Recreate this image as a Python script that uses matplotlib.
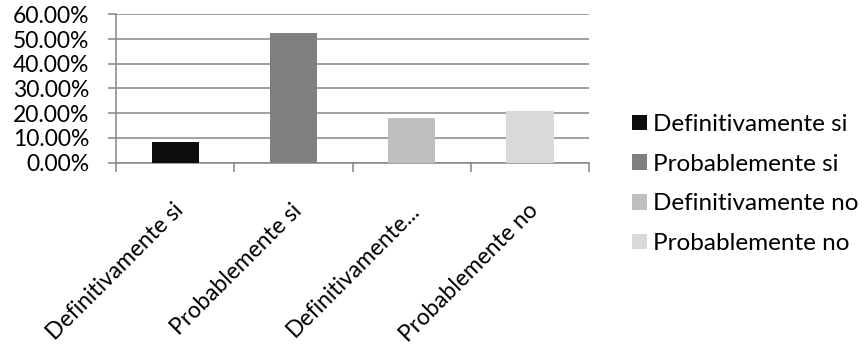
import matplotlib.pyplot as plt
from matplotlib.ticker import FuncFormatter, FixedLocator
from matplotlib.patches import Patch
from matplotlib.transforms import ScaledTranslation

categories = ["Definitivamente si", "Probablemente si", "Definitivamente no", "Probablemente no"]
tick_labels = ["Definitivamente si", "Probablemente si", "Definitivamente...", "Probablemente no"]
values = [8.4, 52.4, 18.2, 21.0]
colors = ["#0d0d0d", "#7f7f7f", "#bfbfbf", "#d9d9d9"]

plt.rcParams["font.family"] = ["Lato", "DejaVu Sans"]
grid_col = "#868686"

fig = plt.figure(figsize=(8.64, 3.52), dpi=100)
ax = fig.add_axes([0.1343, 0.5378, 0.5475, 0.4216])

x = list(range(len(categories)))
ax.bar(x, values, width=0.4, color=colors, zorder=3)

ax.set_xlim(-0.5, len(categories) - 0.5)
ax.set_ylim(0, 60)
ax.set_yticks(range(0, 61, 10))
ax.yaxis.set_major_formatter(FuncFormatter(lambda v, _: f"{v:.2f}%"))
ax.grid(axis="y", color=grid_col, linewidth=1.1, zorder=0)

# category names under the bars, tick marks on the boundaries
ax.set_xticks(x)
ax.set_xticklabels(tick_labels, rotation=45, ha="right", va="center",
                   rotation_mode="anchor", fontsize=16.5)
ax.tick_params(axis="x", length=0, pad=32)
shift = ScaledTranslation(5 / 100, 0, fig.dpi_scale_trans)
for lbl in ax.get_xticklabels():
    lbl.set_transform(lbl.get_transform() + shift)
ax.xaxis.set_minor_locator(FixedLocator([-0.5, 0.5, 1.5, 2.5, 3.5]))
ax.tick_params(axis="x", which="minor", length=6.5, color=grid_col, width=1.1)
ax.tick_params(axis="y", length=5.8, color=grid_col, width=1.1, labelsize=16.5, pad=13.5)

for side in ["top", "right"]:
    ax.spines[side].set_visible(False)
for side in ["left", "bottom"]:
    ax.spines[side].set_color(grid_col)
    ax.spines[side].set_linewidth(1.1)

handles = [Patch(facecolor=c, edgecolor="none") for c in colors]
fig.legend(handles, categories, loc="center left", bbox_to_anchor=(0.7315, 0.477),
           frameon=False, fontsize=17.5, borderpad=0, borderaxespad=0,
           handlelength=0.6, handleheight=0.6, handletextpad=0.25,
           labelspacing=0.77)

fig.savefig("out.png", dpi=100)
